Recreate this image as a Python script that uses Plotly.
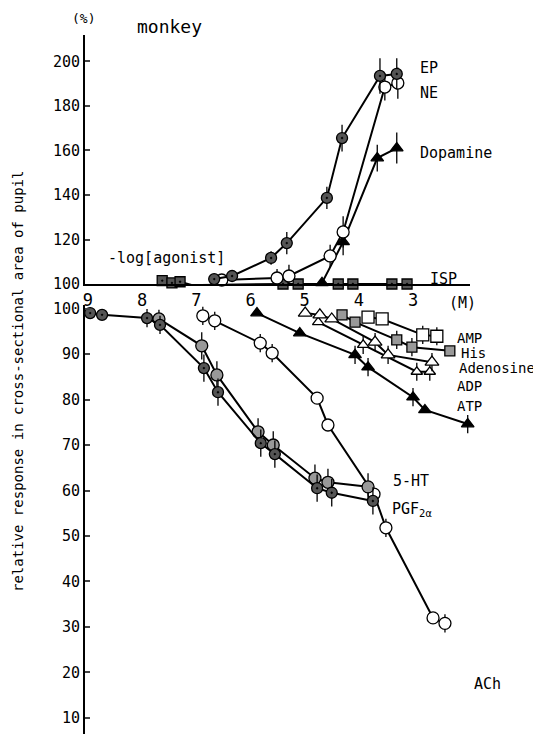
import plotly.graph_objects as go

# ---------------- data (x = -log[agonist] (M), y = relative response %) -------------
x_ticks = [9, 8, 7, 6, 5, 4, 3]
y_upper_ticks = [100, 120, 140, 160, 180, 200]
y_lower_ticks = [10, 20, 30, 40, 50, 60, 70, 80, 90, 100]

# upper panel (increase)
ep_x = [6.67, 6.34, 5.62, 5.33, 4.59, 4.31, 3.61, 3.30]
ep_y = [102.2, 103.6, 111.7, 118.4, 138.7, 165.6, 193.5, 194.4]
ep_e = [0, 0, 3, 5, 5, 6, 8, 7]

ne_x = [6.53, 5.51, 5.29, 4.53, 4.29, 3.52, 3.28]
ne_y = [101.8, 102.7, 103.6, 112.6, 123.4, 188.5, 190.3]
ne_e = [0, 4, 5, 5, 7, 6, 7]

da_x = [4.68, 4.29, 3.66, 3.30]
da_y = [100.5, 118.9, 156.6, 161.1]
da_e = [0, 6, 6, 7]

isp_x = [7.63, 7.45, 7.30, 7.08, 5.40, 5.12, 4.38, 4.11, 3.39, 3.11]
isp_y = [101.5, 100.5, 101.0, 99.5, 100.0, 100.0, 100.0, 100.0, 100.0, 100.0]

# lower panel (decrease)
pgf_x = [8.96, 8.74, 7.91, 7.67, 6.86, 6.60, 5.81, 5.55, 4.77, 4.50, 3.74]
pgf_y = [99.0, 98.6, 97.9, 96.4, 86.9, 81.6, 70.4, 68.0, 60.5, 59.5, 57.7]
pgf_e = [0, 0, 2, 2, 3, 3, 3, 3, 3, 3, 3]

ht_x = [7.69, 6.90, 6.62, 5.86, 5.58, 4.81, 4.57, 3.83]
ht_y = [97.7, 91.8, 85.4, 72.9, 70.0, 62.7, 61.8, 60.8]
ht_e = [2, 3, 3, 3, 3, 3, 3, 3]

ach_x = [6.88, 6.66, 5.82, 5.60, 4.77, 4.57, 3.72, 3.50, 2.63, 2.41]
ach_y = [98.4, 97.3, 92.4, 90.2, 80.3, 74.4, 59.2, 51.8, 32.0, 30.8]
ach_e = [2, 2, 2, 2, 0, 0, 0, 2, 0, 2]

amp_x = [3.83, 3.57, 2.82, 2.56]
amp_y = [98.1, 97.7, 94.2, 93.9]
amp_e = [0, 0, 2, 2]

his_x = [4.31, 4.07, 3.30, 3.02, 2.32]
his_y = [98.6, 97.0, 93.1, 91.5, 90.7]
his_e = [0, 0, 2, 2, 1]

ado_x = [4.99, 4.72, 4.50, 3.70, 3.46, 2.65]
ado_y = [99.0, 98.6, 97.7, 92.6, 89.8, 88.2]
ado_e = [0, 0, 0, 2, 2, 2]

adp_x = [4.75, 3.92, 2.93, 2.69]
adp_y = [97.0, 92.0, 86.1, 86.1]
adp_e = [0, 2, 2, 2]

atp_x = [5.88, 5.09, 4.07, 3.83, 3.00, 2.78, 1.99]
atp_y = [99.0, 94.6, 89.8, 87.1, 80.5, 77.7, 74.6]
atp_e = [0, 0, 2, 2, 2, 0, 2]

series_labels = ["EP", "NE", "Dopamine", "ISP", "AMP", "His", "Adenosine",
                 "ADP", "ATP", "5-HT", "PGF<sub>2α</sub>", "ACh"]

# ---------------- figure ---------------------------------------------------------
OFF = 8                      # page body margin of the html page
W, H = 541 - OFF, 734 - OFF
FONT = "DejaVu Sans Mono"


def fx(px):
    return (px - OFF) / W


def fy(py):
    return 1 - (py - OFF) / H


fig = go.Figure()


def add(x, y, e, xa, ya, symbol, fill, size=11, lw=1.3):
    fig.add_trace(go.Scatter(
        x=x, y=y, xaxis=xa, yaxis=ya, mode="lines+markers",
        line=dict(color="black", width=2),
        marker=dict(symbol=symbol, size=size, color=fill,
                    line=dict(color="black", width=lw)),
        error_y=(dict(type="data", array=e, color="black", thickness=1.3, width=0)
                 if e is not None else None),
        cliponaxis=False, showlegend=False, hoverinfo="skip"))


# upper
add(isp_x, isp_y, None, "x", "y", "square-dot", "#555", size=10)
add(da_x, da_y, da_e, "x", "y", "triangle-up", "black", size=11)
add(ne_x, ne_y, ne_e, "x", "y", "circle", "white", size=12)
add(ep_x, ep_y, ep_e, "x", "y", "circle-dot", "#555", size=11)
# lower
add(atp_x, atp_y, atp_e, "x2", "y2", "triangle-up", "black", size=11)
add(adp_x, adp_y, adp_e, "x2", "y2", "triangle-up", "white", size=10)
add(ado_x, ado_y, ado_e, "x2", "y2", "triangle-up", "white", size=12)
add(his_x, his_y, his_e, "x2", "y2", "square", "#999", size=10)
add(amp_x, amp_y, amp_e, "x2", "y2", "square", "white", size=12)
add(ach_x, ach_y, ach_e, "x2", "y2", "circle", "white", size=12)
add(ht_x, ht_y, ht_e, "x2", "y2", "circle", "#999", size=12)
add(pgf_x, pgf_y, pgf_e, "x2", "y2", "circle-dot", "#555", size=11)

axis_common = dict(showline=True, linecolor="black", linewidth=2, showgrid=False,
                   zeroline=False, mirror=False, automargin=False)

fig.update_layout(
    width=W, height=H, margin=dict(l=0, r=0, t=0, b=0, autoexpand=False),
    paper_bgcolor="white", plot_bgcolor="white",
    font=dict(family=FONT, color="black", size=15),
    xaxis=dict(domain=[fx(85), fx(470)], range=[9.055, 1.948], anchor="y",
               tickvals=x_ticks, ticktext=[str(v) for v in x_ticks], ticks="",
               tickfont=dict(size=17), **axis_common),
    yaxis=dict(domain=[fy(284), fy(35)], range=[100, 211.9], anchor="x",
               tickvals=y_upper_ticks, ticks="inside", ticklen=5, tickwidth=2,
               tickfont=dict(size=15), **axis_common),
    xaxis2=dict(domain=[fx(85), 1], range=[9.055, 0.637], anchor="y2", visible=False,
                automargin=False),
    yaxis2=dict(domain=[0, fy(305)], range=[6.48, 100.77], anchor="x2",
                tickvals=y_lower_ticks, ticks="inside", ticklen=5, tickwidth=2,
                tickfont=dict(size=15), **axis_common),
)


def txt(text, px, py, size=15, xanchor="left", angle=0):
    fig.add_annotation(text=text, x=fx(px), y=fy(py), xref="paper", yref="paper",
                       showarrow=False, xanchor=xanchor, yanchor="middle",
                       textangle=angle, font=dict(family=FONT, size=size, color="black"))


label_pos = [(418, 68, 15), (418, 93, 15), (418, 153, 15), (428, 279, 15),
             (455, 338, 14), (459, 353, 14), (457, 368, 14), (455, 386, 14),
             (455, 406, 14), (391, 481, 15), (390, 509, 15), (472, 684, 15)]
for lab, (px, py, fs) in zip(series_labels, label_pos):
    txt(lab, px, py, size=fs)

txt("(%)", 83, 19, size=13, xanchor="center")
txt("monkey", 169, 27, size=18, xanchor="center")
txt("-log[agonist]", 166, 258, size=15, xanchor="center")
txt("(M)", 447, 303, size=15)
txt("relative response in cross-sectional area of pupil", 18, 382, size=14,
    xanchor="center", angle=-90)

fig.write_html("out.html")
